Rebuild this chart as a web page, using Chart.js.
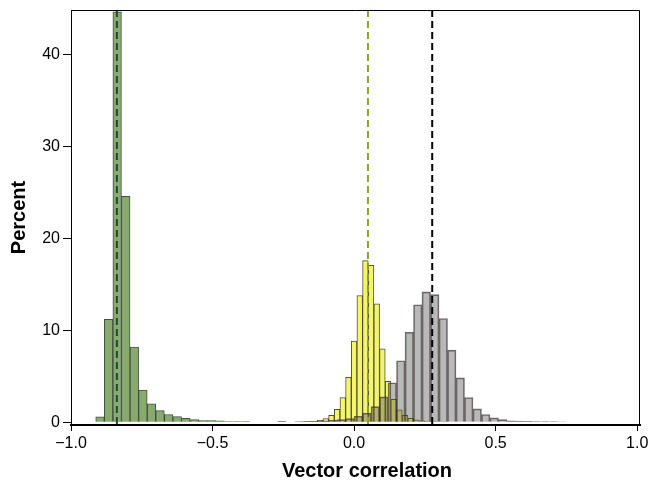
<!DOCTYPE html>
<html>
<head>
<meta charset="utf-8">
<script src="https://cdn.jsdelivr.net/npm/chart.js@4/dist/chart.umd.min.js"></script>
<style>
html,body{margin:0;padding:0;background:#fff;}
canvas{display:block;}
</style>
</head>
<body>
<canvas id="c" width="648" height="484"></canvas>
<script>
// ---- data ----
const greenCenters = [-0.8975,-0.8672,-0.8369,-0.8066,-0.7763,-0.7460,-0.7157,-0.6854,-0.6551,-0.6248,-0.5945,-0.5642,-0.5339,-0.5036,-0.4733,-0.4430,-0.4127,-0.3824];
const greenPercent = [0.6,11.2,44.7,24.6,8.2,3.5,2.0,1.27,0.84,0.62,0.44,0.29,0.18,0.18,0.15,0.07,0.07,0.07];

const yellowCenters = [-0.18,-0.16,-0.14,-0.12,-0.10,-0.08,-0.06,-0.04,-0.02,0.00,0.02,0.04,0.06,0.08,0.10,0.12,0.14,0.16,0.18,0.20,0.22,0.24,0.26,0.28,0.30,0.32];
const yellowPercent = [0.04,0.06,0.1,0.2,0.4,0.75,1.4,2.7,4.9,8.85,13.8,17.6,17.1,12.9,8.0,4.45,2.5,1.35,0.75,0.42,0.25,0.15,0.1,0.07,0.05,0.04];

const grayCenters = [-0.255,-0.195,-0.165,-0.135,-0.105,-0.075,-0.045,-0.015,0.015,0.045,0.075,0.105,0.135,0.165,0.195,0.225,0.255,0.285,0.315,0.345,0.375,0.405,0.435,0.465,0.495,0.525,0.555,0.585,0.615,0.645,0.675,0.705,0.735];
const grayPercent = [0.12,0.08,0.1,0.12,0.15,0.2,0.28,0.4,0.65,1.0,1.7,2.76,4.3,6.7,9.8,12.8,14.2,13.9,11.3,7.85,4.84,2.7,1.45,0.84,0.47,0.29,0.15,0.12,0.1,0.08,0.07,0.06,0.05];

const meanValues = [-0.838, 0.049, 0.276];   // green, yellow, gray means
const xTicks = [-1.0, -0.5, 0.0, 0.5, 1.0];
const yTicks = [0, 10, 20, 30, 40];
const xTitle = 'Vector correlation';
const yTitle = 'Percent';

// ---- styling ----
const FONT = "'Liberation Sans', Arial, Helvetica, sans-serif";
const xRange = {min: -1.0, max: 1.01};
const yRange = {min: -0.3, max: 44.9};
const meanColors = ['#1f4a2e', '#8fa32a', '#000000'];

const pts = (xs, ys) => xs.map((x, i) => ({x: x, y: ys[i]}));
const fmt = v => (v < 0 ? '\u2212' : '') + Math.abs(v).toFixed(1);

const barBase = {type: 'bar', grouped: false, barPercentage: 1.0, categoryPercentage: 1.0, borderWidth: 1, yAxisID: 'y'};

const datasets = [
  ...meanValues.map((m, i) => ({
    type: 'line', xAxisID: 'x', yAxisID: 'y',
    data: [{x: m, y: yRange.max}, {x: m, y: yRange.min}],
    borderColor: meanColors[i], borderWidth: 2, borderDash: [7, 4],
    pointRadius: 0, fill: false, order: 0, clip: false
  })),
  Object.assign({}, barBase, {label: 'gray', xAxisID: 'xGray', data: pts(grayCenters, grayPercent),
    backgroundColor: 'rgba(80,80,80,0.4)', borderColor: 'rgba(60,45,45,0.7)', order: 1}),
  Object.assign({}, barBase, {label: 'yellow', xAxisID: 'xYellow', data: pts(yellowCenters, yellowPercent),
    backgroundColor: 'rgb(245,245,108)', borderColor: 'rgba(50,50,25,0.85)', order: 2}),
  Object.assign({}, barBase, {label: 'green', xAxisID: 'x', data: pts(greenCenters, greenPercent),
    backgroundColor: 'rgb(136,170,111)', borderColor: 'rgba(35,50,35,0.85)', order: 3})
];

const hiddenX = () => ({type: 'linear', display: false, position: 'bottom', offset: false,
  grid: {offset: false}, min: xRange.min, max: xRange.max});

const framePlugin = {
  id: 'frame',
  afterDraw(chart) {
    const {ctx, chartArea: a} = chart;
    ctx.save();
    ctx.strokeStyle = '#000';
    ctx.lineWidth = 1;
    ctx.beginPath();
    ctx.moveTo(a.left, a.top + 0.5);
    ctx.lineTo(a.right - 0.5, a.top + 0.5);
    ctx.lineTo(a.right - 0.5, a.bottom);
    ctx.stroke();
    // x-axis title
    ctx.fillStyle = '#000';
    ctx.font = 'bold 20px ' + FONT;
    ctx.textAlign = 'center';
    ctx.textBaseline = 'middle';
    ctx.fillText(xTitle, 367, 471);
    ctx.restore();
  }
};

new Chart(document.getElementById('c'), {
  type: 'bar',
  data: {datasets: datasets},
  options: {
    responsive: false,
    animation: false,
    devicePixelRatio: 1,
    layout: {padding: {top: 10, right: 8, left: 0, bottom: 0}},
    plugins: {legend: {display: false}, tooltip: {enabled: false}},
    scales: {
      x: {
        type: 'linear', position: 'bottom', min: xRange.min, max: xRange.max, offset: false,
        afterBuildTicks: s => { s.ticks = xTicks.map(v => ({value: v})); },
        afterFit: s => { s.height = 59; s.paddingLeft = 0; s.paddingRight = 0; },
        grid: {display: true, offset: false, drawOnChartArea: false, drawTicks: true, tickLength: 6, color: '#000', lineWidth: 1},
        border: {display: true, color: '#000', width: 2},
        ticks: {color: '#000', font: {family: FONT, size: 16}, padding: 3, maxRotation: 0, autoSkip: false,
                callback: v => fmt(v)},
        title: {display: false}
      },
      xGray: hiddenX(),
      xYellow: hiddenX(),
      y: {
        type: 'linear', position: 'left', min: yRange.min, max: yRange.max,
        afterBuildTicks: s => { s.ticks = yTicks.map(v => ({value: v})); },
        afterFit: s => { s.width = 71; s.paddingTop = 0; s.paddingBottom = 0; },
        grid: {display: true, drawOnChartArea: false, drawTicks: true, tickLength: 8, color: '#000', lineWidth: 1},
        border: {display: true, color: '#000', width: 1},
        ticks: {color: '#000', font: {family: FONT, size: 16}, padding: 3, autoSkip: false},
        title: {display: true, text: yTitle, color: '#000', font: {family: FONT, size: 20, weight: 'bold'},
                padding: {top: 7, bottom: 0}}
      }
    }
  },
  plugins: [framePlugin]
});
</script>
</body>
</html>
